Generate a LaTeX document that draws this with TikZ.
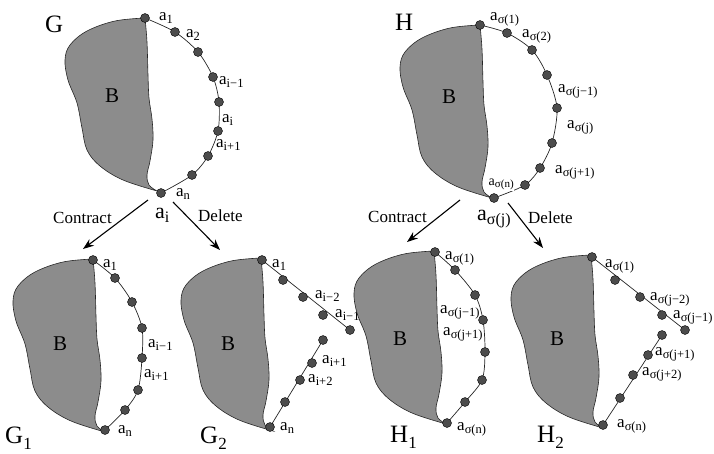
\documentclass[tikz,border=0pt]{standalone}
\usepackage{fontspec}
\setmainfont{Liberation Serif}
\usetikzlibrary{arrows.meta}
\newcommand\lab[1]{a\raisebox{-0.45ex}{\fontsize{12.5}{12.5}\selectfont #1}}
\newcommand\slab[1]{a\raisebox{-0.45ex}{\fontsize{11}{11}\selectfont #1}}
\newcommand\biglab[1]{a\raisebox{-0.45ex}{\fontsize{16}{16}\selectfont #1}}
\newcommand\gname[2]{#1\raisebox{-0.6ex}{\fontsize{17}{17}\selectfont #2}}
\tikzset{
  blobfill/.style={draw=black!85,line width=0.6pt,fill=black!45},
  blob/.pic={\filldraw[blobfill] plot[smooth,tension=0.6] coordinates {(0,0) (-30,3) (-58,13) (-75,27) (-80,42) (-77,62) (-68,85) (-63,110) (-58,132) (-45,148) (-22,162) (12,173)} -- plot[smooth,tension=0.6] coordinates {(12,173) (4,167) (2,157) (5,143) (8,122) (7,101) (4,80) (3,57) (2,24) (0,0)} -- cycle;},
  dot/.style={circle,draw=black,fill=black!70,inner sep=0pt,minimum size=9pt,line width=0.4pt},
  arcline/.style={line width=0.7pt,black!85},
  lbl/.style={anchor=base west,inner sep=0pt,font=\fontsize{17}{17}\selectfont},
  blbl/.style={anchor=base west,inner sep=0pt,font=\fontsize{22}{22}\selectfont},
  gtitle/.style={anchor=base west,inner sep=0pt,font=\fontsize{25}{25}\selectfont},
  bl/.style={anchor=base west,inner sep=0pt,font=\fontsize{21}{21}\selectfont},
  arr/.style={line width=1.1pt,-{Stealth[length=11pt,width=8pt]}},
}
\begin{document}
\begin{tikzpicture}[x=1pt,y=-1pt]
\useasboundingbox (0,0) rectangle (714,453);

% ===== G =====
\pic at (145,18) {blob};
\coordinate (g1) at (145,18); \coordinate (g2) at (175,32); \coordinate (g3) at (198,52);
\coordinate (g4) at (213,77); \coordinate (g5) at (219,102); \coordinate (g6) at (218,131);
\coordinate (g7) at (208,156); \coordinate (g8) at (192,175); \coordinate (g9) at (161,193);
\draw[arcline] plot[smooth] coordinates {(g1) (g2) (g3) (g4) (g5) (g6) (g7) (g8) (g9)};
\foreach \i in {1,...,9} \node[dot] (G-\i) at (g\i) {};
\node[gtitle] (Gname) at (45,32) {G};
\node[bl] (GB) at (105,102) {B};
\node[lbl] (Gl1) at (159,20) {\lab{1}};
\node[lbl] (Gl2) at (186,37) {\lab{2}};
\node[lbl] (Gl3) at (219,84) {\lab{i−1}};
\node[lbl] (Gl4) at (222,122) {\lab{i}};
\node[lbl] (Gl5) at (216,147) {\lab{i+1}};
\node[lbl] (Gl6) at (176,196) {\lab{n}};

% arrows from G
\node[blbl] (Gai) at (155,218) {\biglab{i}};
\node[lbl] (Gc) at (53,223) {Contract};
\node[lbl] (Gd) at (198,221) {Delete};
\coordinate (gcs) at (148,200); \coordinate (gce) at (83,249);
\coordinate (gds) at (173,202); \coordinate (gde) at (220,250);
\draw[arr] (gcs) -- (gce);
\draw[arr] (gds) -- (gde);

% ===== G1 =====
\pic at (93,259) {blob};
\coordinate (p1) at (93,260); \coordinate (p2) at (115,278); \coordinate (p3) at (132,302);
\coordinate (p4) at (142,328); \coordinate (p5) at (142,358); \coordinate (p6) at (138,390);
\coordinate (p7) at (125,410); \coordinate (p8) at (105,430);
\draw[arcline] plot[smooth] coordinates {(p1) (p2) (p3) (p4) (p5) (p6) (p7) (p8)};
\foreach \i in {1,...,8} \node[dot] (G1-\i) at (p\i) {};
\node[bl] (G1B) at (53,350) {B};
\node[lbl] (G1l1) at (103,267) {\lab{1}};
\node[lbl] (G1l2) at (148,347) {\lab{i−1}};
\node[lbl] (G1l3) at (144,377) {\lab{i+1}};
\node[lbl] (G1l4) at (118,433) {\lab{n}};
\node[gtitle] (G1name) at (5,443) {\gname{G}{1}};

% ===== G2 =====
\pic at (261,258) {blob};
\coordinate (q1) at (262,260); \coordinate (q2) at (283,280); \coordinate (q3) at (303,297);
\coordinate (q4) at (323,315); \coordinate (q5) at (350,330);
\coordinate (q6) at (323,340); \coordinate (q7) at (312,363); \coordinate (q8) at (300,380);
\coordinate (q9) at (285,402); \coordinate (q10) at (270,427);
\draw[arcline] (q1) -- (q5);
\draw[arcline] (q6) -- (q10);
\foreach \i in {1,...,10} \node[dot] (G2-\i) at (q\i) {};
\node[bl] (G2B) at (221,350) {B};
\node[lbl] (G2l1) at (272,267) {\lab{1}};
\node[lbl] (G2l2) at (315,298) {\lab{i−2}};
\node[lbl] (G2l3) at (335,317) {\lab{i−1}};
\node[lbl] (G2l4) at (322,363) {\lab{i+1}};
\node[lbl] (G2l5) at (308,382) {\lab{i+2}};
\node[lbl] (G2l6) at (280,430) {\lab{n}};
\node[gtitle] (G2name) at (200,443) {\gname{G}{2}};

% ===== H =====
\pic at (480,25) {blob};
\coordinate (h1) at (480,25); \coordinate (h2) at (507,33); \coordinate (h3) at (532,50);
\coordinate (h4) at (547,75); \coordinate (h5) at (557,108); \coordinate (h6) at (552,143);
\coordinate (h7) at (540,168); \coordinate (h8) at (525,185); \coordinate (h9) at (494,198);
\draw[arcline] plot[smooth] coordinates {(h1) (h2) (h3) (h4) (h5) (h6) (h7) (h8) (h9)};
\foreach \i in {1,...,9} \node[dot] (H-\i) at (h\i) {};
\node[gtitle] (Hname) at (395,30) {H};
\node[bl] (HB) at (442,103) {B};
\node[lbl] (Hl1) at (490,20) {\lab{σ(1)}};
\node[lbl] (Hl2) at (522,37) {\lab{σ(2)}};
\node[lbl] (Hl3) at (558,92) {\lab{σ(j−1)}};
\node[lbl] (Hl4) at (567,128) {\lab{σ(j)}};
\node[lbl] (Hl5) at (555,173) {\lab{σ(j+1)}};
\node[lbl,fill=white,inner sep=0.5pt,font=\fontsize{14}{14}\selectfont] (Hl6) at (488,185) {\slab{σ(n)}};

% arrows from H
\node[blbl] (Haj) at (477,220) {\biglab{σ(j)}};
\node[lbl] (Hc) at (368,222) {Contract};
\node[lbl] (Hd) at (528,223) {Delete};
\coordinate (hcs) at (460,200); \coordinate (hce) at (407,242);
\coordinate (hds) at (508,203); \coordinate (hde) at (543,248);
\draw[arr] (hcs) -- (hce);
\draw[arr] (hds) -- (hde);

% ===== H1 =====
\pic at (434,251) {blob};
\coordinate (r1) at (435,252); \coordinate (r2) at (455,270); \coordinate (r3) at (475,295);
\coordinate (r4) at (483,320); \coordinate (r5) at (485,352); \coordinate (r6) at (482,380);
\coordinate (r7) at (465,402); \coordinate (r8) at (447,423);
\draw[arcline] plot[smooth] coordinates {(r1) (r2) (r3) (r4) (r5) (r6) (r7) (r8)};
\foreach \i in {1,...,8} \node[dot] (H1-\i) at (r\i) {};
\node[bl] (H1B) at (393,345) {B};
\node[lbl] (H1l1) at (445,259) {\lab{σ(1)}};
\node[lbl] (H1l2) at (440,313) {\lab{σ(j−1)}};
\node[lbl] (H1l3) at (443,335) {\lab{σ(j+1)}};
\node[lbl] (H1l4) at (457,430) {\lab{σ(n)}};
\node[gtitle] (H1name) at (390,442) {\gname{H}{1}};

% ===== H2 =====
\pic at (591,255) {blob};
\coordinate (s1) at (592,257); \coordinate (s2) at (615,280); \coordinate (s3) at (640,297);
\coordinate (s4) at (662,315); \coordinate (s5) at (685,330);
\coordinate (s6) at (662,335); \coordinate (s7) at (648,355); \coordinate (s8) at (633,375);
\coordinate (s9) at (620,398); \coordinate (s10) at (603,425);
\draw[arcline] (s1) -- (s5);
\draw[arcline] (s6) -- (s10);
\foreach \i in {1,...,10} \node[dot] (H2-\i) at (s\i) {};
\node[bl] (H2B) at (550,345) {B};
\node[lbl] (H2l1) at (605,267) {\lab{σ(1)}};
\node[lbl] (H2l2) at (650,300) {\lab{σ(j−2)}};
\node[lbl] (H2l3) at (673,318) {\lab{σ(j−1)}};
\node[lbl] (H2l4) at (655,355) {\lab{σ(j+1)}};
\node[lbl] (H2l5) at (642,375) {\lab{σ(j+2)}};
\node[lbl] (H2l6) at (617,427) {\lab{σ(n)}};
\node[gtitle] (H2name) at (537,442) {\gname{H}{2}};
\end{tikzpicture}
\end{document}
